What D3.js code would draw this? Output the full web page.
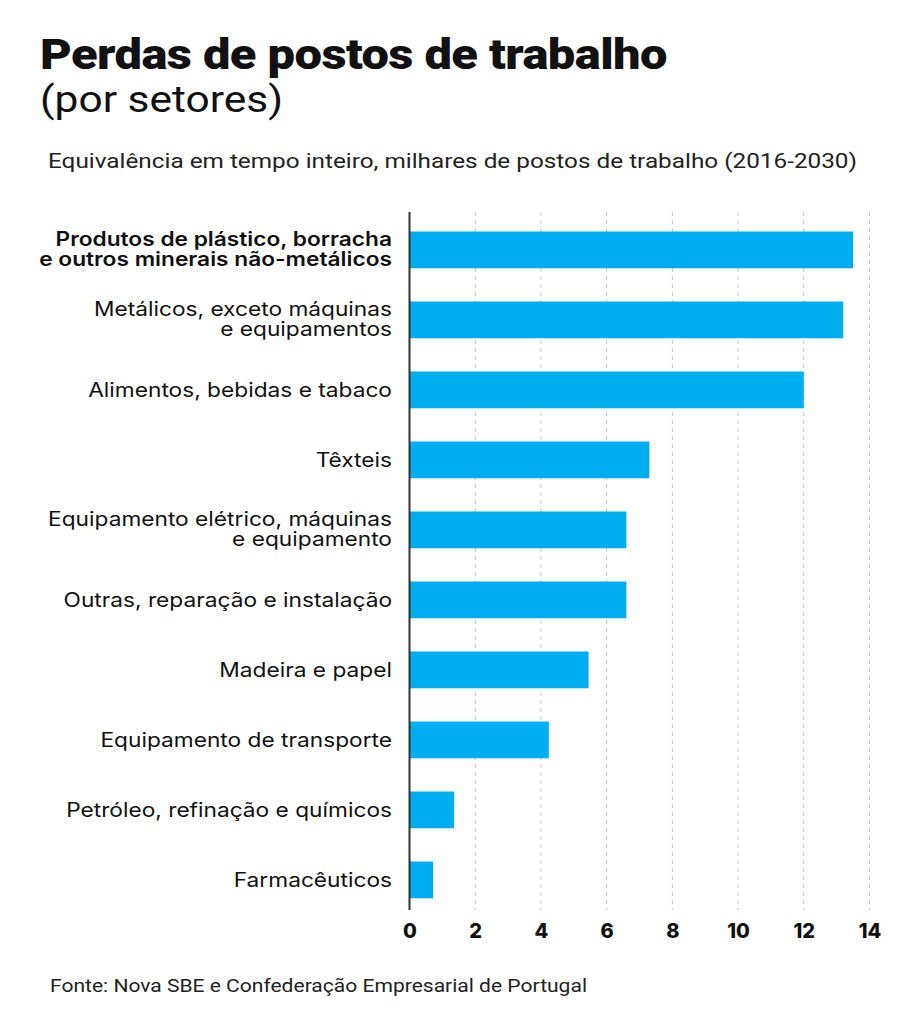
<!DOCTYPE html>
<html>
<head>
<meta charset="utf-8">
<script src="https://cdn.jsdelivr.net/npm/d3@7"></script>
<style>
  html, body { margin: 0; padding: 0; background: #fff; }
  svg { display: block; }
  text { font-family: Inter, "Noto Sans", sans-serif; fill: #111; }
</style>
</head>
<body>
<svg id="chart" width="919" height="1024"></svg>
<script>
const categories = [
  ["Produtos de plástico, borracha", "e outros minerais não-metálicos"],
  ["Metálicos, exceto máquinas", "e equipamentos"],
  ["Alimentos, bebidas e tabaco"],
  ["Têxteis"],
  ["Equipamento elétrico, máquinas", "e equipamento"],
  ["Outras, reparação e instalação"],
  ["Madeira e papel"],
  ["Equipamento de transporte"],
  ["Petróleo, refinação e químicos"],
  ["Farmacêuticos"]
];
const values = [13.5, 13.2, 12.0, 7.3, 6.6, 6.6, 5.45, 4.24, 1.36, 0.72];
const ticks = [0, 2, 4, 6, 8, 10, 12, 14];
const title = "Perdas de postos de trabalho";
const titleSub = "(por setores)";
const subtitle = "Equivalência em tempo inteiro, milhares de postos de trabalho (2016-2030)";
const source = "Fonte: Nova SBE e Confederação Empresarial de Portugal";

const svg = d3.select("#chart");
const ids = categories.map((d, i) => i);

const x = d3.scaleLinear().domain([0, 14]).range([409.5, 869.5]);
const y = d3.scaleBand().domain(ids).range([214.9, 914.9]).paddingInner(0.475).paddingOuter(0.2375);

// Titles
svg.append("text").attr("x", 40).attr("y", 69)
  .attr("textLength", 627).attr("lengthAdjust", "spacingAndGlyphs")
  .style("font-family", "Roboto, Inter, sans-serif")
  .style("font-weight", 900).style("font-size", "43px").style("letter-spacing", "-0.5px")
  .text(title);
svg.append("text").attr("x", 40).attr("y", 112)
  .attr("textLength", 243).attr("lengthAdjust", "spacingAndGlyphs")
  .style("font-family", "Roboto, Inter, sans-serif")
  .style("font-weight", 400).style("font-size", "37px")
  .text(titleSub);
svg.append("text").attr("x", 48).attr("y", 168)
  .attr("textLength", 809).attr("lengthAdjust", "spacingAndGlyphs")
  .style("font-family", "Roboto, Inter, sans-serif")
  .style("font-weight", 400).style("font-size", "21px").style("fill", "#222")
  .text(subtitle);

// Gridlines
svg.append("g").selectAll("line").data(ticks.filter(t => t > 0)).join("line")
  .attr("x1", d => x(d)).attr("x2", d => x(d))
  .attr("y1", 212).attr("y2", 910)
  .attr("stroke", "#c4c4c4").attr("stroke-width", 1).attr("stroke-dasharray", "4,4");

// Bars
svg.append("g").selectAll("rect").data(values).join("rect")
  .attr("x", x(0))
  .attr("y", (d, i) => y(i))
  .attr("width", d => x(d) - x(0))
  .attr("height", y.bandwidth())
  .attr("fill", "#00aeef");

// Axis line
svg.append("line").attr("x1", x(0)).attr("x2", x(0)).attr("y1", 212).attr("y2", 910)
  .attr("stroke", "#333").attr("stroke-width", 2);

// Category labels (one text per line, widened to match the reference typeface)
const labelGroup = svg.append("g");
categories.forEach((lines, i) => {
  const c = y(i) + y.bandwidth() / 2;
  const ys = lines.length === 1 ? [c + 7.5] : [c - 4, c + 16];
  lines.forEach((line, k) => {
    const t = labelGroup.append("text")
      .attr("x", 392).attr("y", ys[k])
      .attr("text-anchor", "end")
      .style("font-size", "19.5px")
      .style("font-weight", i === 0 ? 600 : 400)
      .style("fill", "#111")
      .text(line);
    const w = t.node().getComputedTextLength();
    t.attr("textLength", w * 1.164).attr("lengthAdjust", "spacingAndGlyphs");
  });
});

// Tick labels
const xAxis = d3.axisBottom(x).tickValues(ticks).tickSize(0).tickPadding(0).tickFormat(d3.format("d"));
const gx = svg.append("g").attr("transform", "translate(0,924)").call(xAxis);
gx.select(".domain").remove();
gx.selectAll("text")
  .attr("dy", "0.71em")
  .style("font-family", "Inter, Roboto, sans-serif")
  .style("font-size", "20px").style("font-weight", 800).style("fill", "#111");

// Source
svg.append("text").attr("x", 50).attr("y", 992)
  .attr("textLength", 537).attr("lengthAdjust", "spacingAndGlyphs")
  .style("font-family", "Roboto, Inter, sans-serif")
  .style("font-size", "18px").style("fill", "#222")
  .text(source);
</script>
</body>
</html>
